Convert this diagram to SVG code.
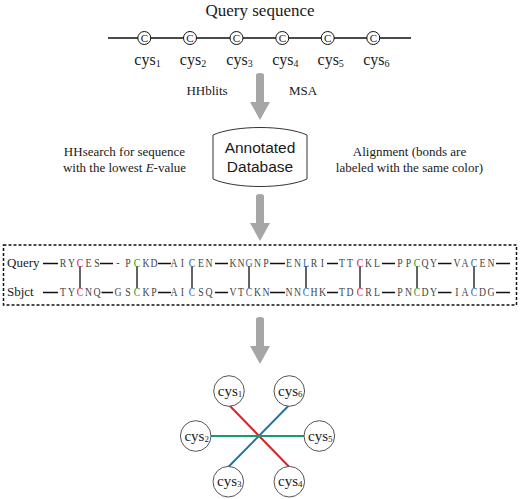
<svg xmlns="http://www.w3.org/2000/svg" width="520" height="499" viewBox="0 0 520 499">
<defs>
<style>
.serif{font-family:"Liberation Serif","Times New Roman",serif;fill:#1a1a1a}
.sans{font-family:"Liberation Sans",Arial,sans-serif;fill:#1a1a1a}
.arrow{fill:#a6a6a6}
.ln{stroke:#111;stroke-width:1.3;fill:none}
.aa{font-family:"Liberation Serif","Times New Roman",serif;font-size:13px;fill:#444;text-anchor:middle}
.r{fill:#e3182f}.g{fill:#1f9a35}.b{fill:#2f66a6}
.node{fill:#fff;stroke:#555;stroke-width:1}
.cys{font-family:"Liberation Serif","Times New Roman",serif;font-size:15px;fill:#1a1a1a;text-anchor:middle}
</style>
<path id="garrow" d="M-4,2 Q-4,0 0,0 Q4,0 4,2 L4,29 L10,29 L0,47 L-10,29 L-4,29 Z"/>
</defs>
<rect width="520" height="499" fill="#fff"/>

<g id="query-sequence">
<text class="serif" x="260" y="16" font-size="17" text-anchor="middle">Query sequence</text>
<line class="ln" x1="108" y1="38" x2="411" y2="38"/>
<g font-size="11" text-anchor="middle">
<circle cx="144.3" cy="38" r="6.5" fill="#fff" stroke="#111"/><text class="serif" x="144.3" y="42">C</text>
<circle cx="190" cy="38" r="6.5" fill="#fff" stroke="#111"/><text class="serif" x="190" y="42">C</text>
<circle cx="236.5" cy="38" r="6.5" fill="#fff" stroke="#111"/><text class="serif" x="236.5" y="42">C</text>
<circle cx="282.3" cy="38" r="6.5" fill="#fff" stroke="#111"/><text class="serif" x="282.3" y="42">C</text>
<circle cx="327.7" cy="38" r="6.5" fill="#fff" stroke="#111"/><text class="serif" x="327.7" y="42">C</text>
<circle cx="373.3" cy="38" r="6.5" fill="#fff" stroke="#111"/><text class="serif" x="373.3" y="42">C</text>
</g>
<g font-size="16" text-anchor="middle">
<text class="serif" x="147.5" y="65">cys<tspan font-size="10" dy="2">1</tspan></text>
<text class="serif" x="193" y="65">cys<tspan font-size="10" dy="2">2</tspan></text>
<text class="serif" x="239.5" y="65">cys<tspan font-size="10" dy="2">3</tspan></text>
<text class="serif" x="285.3" y="65">cys<tspan font-size="10" dy="2">4</tspan></text>
<text class="serif" x="330.7" y="65">cys<tspan font-size="10" dy="2">5</tspan></text>
<text class="serif" x="376.3" y="65">cys<tspan font-size="10" dy="2">6</tspan></text>
</g>
</g>

<g id="connectors">
<use href="#garrow" class="arrow" transform="translate(260,73)"/>
<use href="#garrow" class="arrow" transform="translate(260,194)"/>
<use href="#garrow" class="arrow" transform="translate(260,317)"/>
<line x1="229" y1="405" x2="289.3" y2="467" stroke="#d8232a" stroke-width="2"/>
<line x1="289.3" y1="405" x2="228.3" y2="467" stroke="#1f73a8" stroke-width="2"/>
<line x1="211" y1="436" x2="304.3" y2="436" stroke="#179a6c" stroke-width="2"/>
</g>

<g id="labels">
<text class="serif" x="207" y="95" font-size="13" text-anchor="middle">HHblits</text>
<text class="serif" x="303" y="95" font-size="13" text-anchor="middle">MSA</text>
<text class="serif" x="124.5" y="156" font-size="13" text-anchor="middle">HHsearch for sequence</text>
<text class="serif" x="124.5" y="172" font-size="13" text-anchor="middle">with the lowest <tspan font-style="italic">E</tspan>-value</text>
<text class="serif" x="409.5" y="156" font-size="13" text-anchor="middle">Alignment (bonds are</text>
<text class="serif" x="409.5" y="172" font-size="13" text-anchor="middle">labeled with the same color)</text>
</g>

<g id="database">
<path d="M213,135 C235,125 285,125 307,135 L307,179 C285,189 235,189 213,179 Z" fill="#fff" stroke="#333" stroke-width="1"/>
<text class="sans" x="260" y="153" font-size="15.5" text-anchor="middle">Annotated</text>
<text class="sans" x="260" y="172" font-size="15.5" text-anchor="middle">Database</text>
</g>

<g id="alignment">
<rect x="3.5" y="245" width="513" height="60" fill="none" stroke="#111" stroke-width="1.5" stroke-dasharray="3,2"/>
<text class="serif" x="7" y="267" font-size="13">Query</text>
<text class="serif" x="7" y="296" font-size="13">Sbjct</text>
<g class="ln">
<path d="M43,263.5H58M100,263.5H113M158,263.5H171M215,263.5H228M270,263.5H285M327,263.5H338M382,263.5H395M438,263.5H451.5M496,263.5H510"/>
<path d="M43,292.5H58M101.5,292.5H113M158,292.5H171M215,292.5H228M270,292.5H285M327,292.5H338M382,292.5H395M438,292.5H451.5M496,292.5H510"/>
<path d="M80,266V288M137,266V288M192,266V288M249,266V288M306,266V288M360,266V288M417,266V288M474,266V288"/>
</g>
<g transform="scale(0.75,1)">
<text class="aa" y="267" x="84 95.33 106.67 118 129.33 157.33 170.67 182.67 194.67 205.33 232 243.33 256 268 278.67 310.67 321.33 332 343.33 354.67 385.33 396.67 408 418.67 430 456 466.67 480 491.33 502.67 533.33 544.67 556 566.67 578 609.33 620 632 643.33 654.67">RY<tspan class="r">C</tspan>ES-P<tspan class="g">C</tspan>KDAI<tspan class="b">C</tspan>ENKN<tspan class="b">G</tspan>NPEN<tspan class="b">L</tspan>RITT<tspan class="r">C</tspan>KLPP<tspan class="g">C</tspan>QYVA<tspan class="b">C</tspan>EN</text>
<text class="aa" y="296" x="84 95.33 106.67 118 129.33 157.33 170.67 182.67 194.67 205.33 232 243.33 256 268 278.67 310.67 321.33 332 343.33 354.67 385.33 396.67 408 418.67 430 456 466.67 480 491.33 502.67 533.33 544.67 556 566.67 578 609.33 620 632 643.33 654.67">TY<tspan class="r">C</tspan>NQGS<tspan class="g">C</tspan>KPAI<tspan class="b">C</tspan>SQVT<tspan class="b">C</tspan>KNNN<tspan class="b">C</tspan>HKTD<tspan class="r">C</tspan>RLPN<tspan class="g">C</tspan>DYIA<tspan class="b">C</tspan>DG</text>
</g>
</g>

<g id="cys1"><circle class="node" cx="229" cy="391" r="15.3"/><text class="cys" x="230" y="395.5">cys<tspan font-size="9" dy="1">1</tspan></text></g>
<g id="cys6"><circle class="node" cx="289.3" cy="391" r="15.3"/><text class="cys" x="290.3" y="395.5">cys<tspan font-size="9" dy="1">6</tspan></text></g>
<g id="cys2"><circle class="node" cx="195.7" cy="436" r="15.3"/><text class="cys" x="196.7" y="440.5">cys<tspan font-size="9" dy="1">2</tspan></text></g>
<g id="cys5"><circle class="node" cx="319.3" cy="436" r="15.3"/><text class="cys" x="320.3" y="440.5">cys<tspan font-size="9" dy="1">5</tspan></text></g>
<g id="cys3"><circle class="node" cx="228.3" cy="481.7" r="15.3"/><text class="cys" x="229.3" y="486">cys<tspan font-size="9" dy="1">3</tspan></text></g>
<g id="cys4"><circle class="node" cx="289.3" cy="481.7" r="15.3"/><text class="cys" x="290.3" y="486">cys<tspan font-size="9" dy="1">4</tspan></text></g>
</svg>
